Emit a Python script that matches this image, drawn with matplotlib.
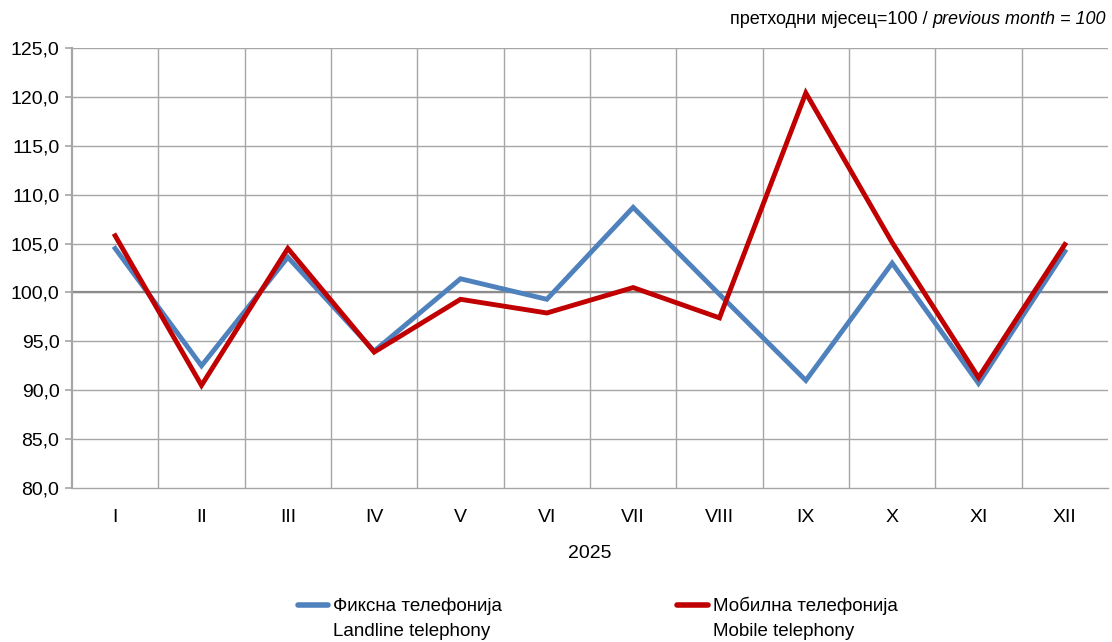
import numpy as np
import matplotlib
matplotlib.use('Agg')
import matplotlib.pyplot as plt
from matplotlib.lines import Line2D
from matplotlib import font_manager

# data
months = ['I', 'II', 'III', 'IV', 'V', 'VI', 'VII', 'VIII', 'IX', 'X', 'XI', 'XII']
landline = [104.5, 92.5, 103.6, 94.0, 101.4, 99.3, 108.7, 99.8, 91.0, 103.0, 90.7, 104.2]
mobile = [105.8, 90.5, 104.5, 93.9, 99.3, 97.9, 100.5, 97.4, 120.4, 105.1, 91.3, 104.9]
year_label = '2025'
landline_label = ['Фиксна телефонија', 'Landline telephony']
mobile_label = ['Мобилна телефонија', 'Mobile telephony']

names = {f.name for f in font_manager.fontManager.ttflist}
fam = ['Liberation Sans Narrow'] if 'Liberation Sans Narrow' in names else []
plt.rcParams['font.family'] = fam + ['Liberation Sans', 'DejaVu Sans']

BLUE = '#4F81BD'
RED = '#C00000'
GRID = '#A6A6A6'
W, H = 1112, 642

fig = plt.figure(figsize=(W/100, H/100), dpi=100)
ax = fig.add_axes([72/W, 1 - 488/H, (1108 - 72)/W, (488 - 48)/H])

x = np.arange(len(months))
ax.plot(x, landline, color=BLUE, lw=3.5, solid_joinstyle='miter', zorder=3)
ax.plot(x, mobile, color=RED, lw=3.5, solid_joinstyle='miter', zorder=4)

ax.set_xlim(-0.5, len(months) - 0.5)
ax.set_ylim(80, 125)
yt = np.arange(80, 126, 5)
ax.set_yticks(yt)
ax.set_yticklabels([f'{v:.1f}'.replace('.', ',') for v in yt])
ax.set_xticks(x)
ax.set_xticklabels(months)

# grid: horizontal at ticks, vertical at category boundaries
for v in yt[1:]:
    ax.axhline(v, color=GRID, lw=1.0, zorder=1)
ax.axhline(100, color='#8C8C8C', lw=1.6, zorder=2)
for b in np.arange(0.5, len(months) - 0.5, 1):
    ax.axvline(b, color=GRID, lw=1.0, zorder=1)

for s in ['top', 'right']:
    ax.spines[s].set_visible(False)
ax.spines['left'].set_color(GRID)
ax.spines['left'].set_linewidth(1.6)
ax.spines['bottom'].set_color(GRID)
ax.spines['bottom'].set_linewidth(1.0)
ax.tick_params(axis='y', length=5, color=GRID, width=1.2, labelsize=14, pad=4)
ax.tick_params(axis='x', length=0, labelsize=14, pad=15)

ax.set_xlabel(year_label, fontsize=14, labelpad=14)

t2 = fig.text(1106/W, 1 - 20/H, 'previous month = 100', ha='right', va='center',
              fontsize=13, style='italic')
fig.canvas.draw()
bb = t2.get_window_extent()
fig.text(bb.x0 / W, 1 - 20/H, 'претходни мјесец=100 / ', ha='right', va='center',
         fontsize=13)

# legend
for (x0, x1, xt), col, lab in [((298, 328, 333), BLUE, landline_label),
                               ((677, 708, 713), RED, mobile_label)]:
    fig.add_artist(Line2D([x0/W, x1/W], [1 - 605/H] * 2, color=col, lw=4,
                          solid_capstyle='round', transform=fig.transFigure))
    fig.text(xt/W, 1 - 606/H, lab[0], ha='left', va='center', fontsize=13.5)
    fig.text(xt/W, 1 - 631/H, lab[1], ha='left', va='center', fontsize=13.5)

fig.savefig('out.png', dpi=100)
